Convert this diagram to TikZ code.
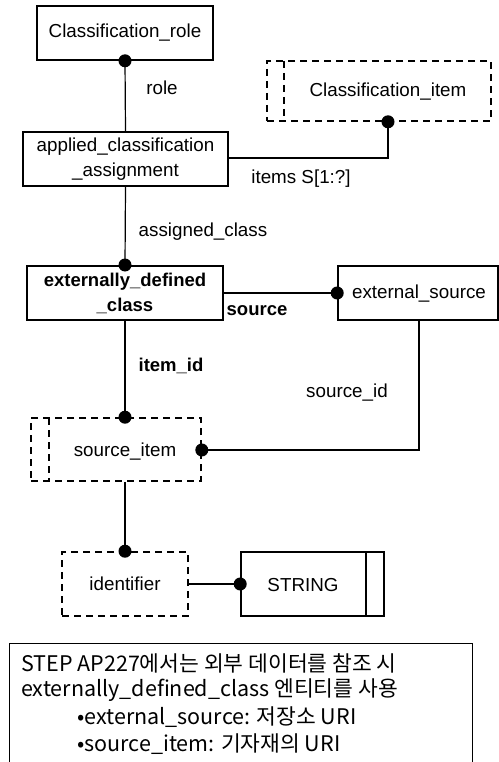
\documentclass[tikz,border=0pt]{standalone}
\usepackage{fontspec}
\setmainfont{Liberation Sans}
\newfontfamily\kr{Noto Sans CJK KR}
\usetikzlibrary{positioning}
\begin{document}
\begin{tikzpicture}[x=1pt,y=-1pt,
  ent/.style={draw,line width=1.6pt,rectangle,inner sep=0pt,font=\fontsize{18.8}{25}\selectfont,align=center},
  sel/.style={ent,dashed,dash pattern=on 7pt off 5pt},
  conn/.style={line width=1.2pt},
  dotc/.style={fill=black,circle,inner sep=0pt,minimum size=13pt},
  lab/.style={font=\fontsize{18.8}{25}\selectfont,inner sep=0pt},
  blab/.style={font=\bfseries\fontsize{18.5}{25}\selectfont,inner sep=0pt}]
\useasboundingbox (0,0) rectangle (498,762);
% entities
\node[ent,minimum width=176pt,minimum height=54pt] (role) at (125,33) {Classification\_role};
\node[ent,minimum width=205pt,minimum height=54pt] (aca) at (125.5,159) {applied\_classification\\\_assignment};
\node[sel,minimum width=224pt,minimum height=60pt] (citem) at (379,91) {};
\draw[line width=1.6pt,dashed,dash pattern=on 7pt off 5pt] (284,61) -- (284,121);
\node[lab] (citemt) at (388,92) {Classification\_item};
\node[ent,line width=2pt,minimum width=196pt,minimum height=54pt,font=\bfseries\fontsize{18.5}{25}\selectfont] (edc) at (125,293) {externally\_defined\\\_class};
\node[ent,minimum width=160pt,minimum height=54pt] (exs) at (418,293) {};
\node[lab] (exst) at (419,294) {external\_source};
\node[sel,minimum width=170pt,minimum height=63pt] (sitem) at (116,449.5) {};
\draw[line width=1.6pt,dashed,dash pattern=on 7pt off 5pt] (49,418) -- (49,481);
\node[lab] (sitemt) at (125,452) {source\_item};
\node[sel,minimum width=126pt,minimum height=64pt] (ident) at (125,584) {identifier};
\node[ent,minimum width=143pt,minimum height=64pt] (str) at (312.5,584) {};
\draw[line width=1.6pt] (366,552) -- (366,616);
\node[lab] (strt) at (303,585) {STRING};
% connectors
\coordinate (c1) at (388,158);
\coordinate (c2) at (419,450);
\draw[conn] (role.south) -- (aca.north);
\node[dotc] at (role.south) {};
\draw[conn] (aca.east |- c1) -- (c1) -- (citem.south -| c1);
\node[dotc] at (citem.south -| c1) {};
\draw[conn] (aca.south) -- (edc.north);
\node[dotc] at (edc.north) {};
\draw[conn] (edc.east) -- (exs.west);
\node[dotc] at (exs.west) {};
\draw[conn] (edc.south) -- (sitem.north -| edc.south);
\node[dotc] at (sitem.north -| edc.south) {};
\draw[conn] (exs.south -| c2) -- (c2) -- (sitem.east |- c2);
\node[dotc] at (sitem.east |- c2) {};
\draw[conn] (sitem.south -| ident.north) -- (ident.north);
\node[dotc] at (ident.north) {};
\draw[conn] (ident.east) -- (str.west);
\node[dotc] at (str.west) {};
% labels
\node[lab] (l1) at (162,88) {role};
\node[lab] (l2) at (301,179) {items S[1:?]};
\node[lab] (l3) at (203,232) {assigned\_class};
\node[blab] (l4) at (257,311) {source};
\node[blab] (l5) at (171,366) {item\_id};
\node[lab] (l6) at (347,393) {source\_id};
% note
\draw[line width=1pt] (9,643) rectangle (472,775);
\node[anchor=west,inner sep=0pt,font=\kr\fontsize{21.5}{27}\selectfont] (n1) at (21,663) {STEP AP227에서는 외부 데이터를 참조 시};
\node[anchor=west,inner sep=0pt,font=\kr\fontsize{21.5}{27}\selectfont] (n2) at (21,690) {externally\_defined\_class 엔티티를 사용};
\node[anchor=west,inner sep=0pt,font=\kr\fontsize{21.5}{27}\selectfont] (n3) at (77,717) {•external\_source: 저장소 URI};
\node[anchor=west,inner sep=0pt,font=\kr\fontsize{21.5}{27}\selectfont] (n4) at (77,744) {•source\_item: 기자재의 URI};
\end{tikzpicture}
\end{document}
